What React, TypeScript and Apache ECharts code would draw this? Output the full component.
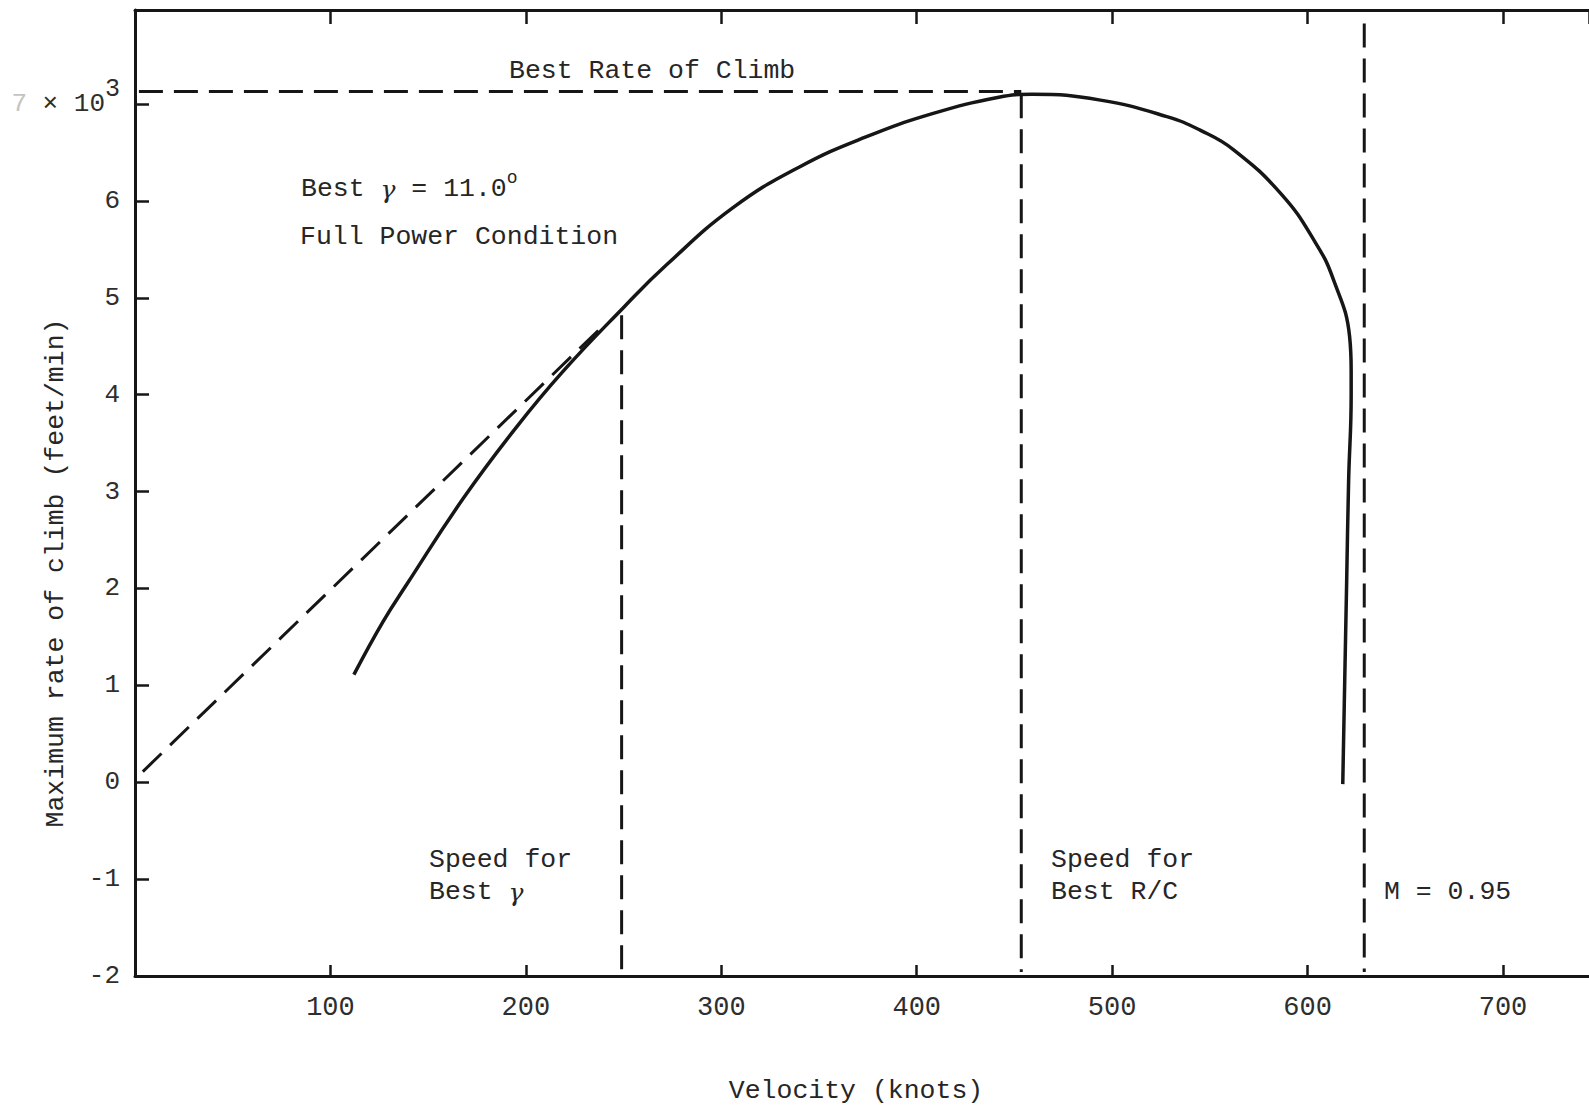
import React, { useEffect, useRef } from "react";
import * as echarts from "echarts";

// ---- Data ----
const velocityTicks = [100, 200, 300, 400, 500, 600, 700];
const rocTicks = [-2, -1, 0, 1, 2, 3, 4, 5, 6, 7];

// Maximum rate of climb (x 10^3 ft/min) vs velocity (knots), full power
const curveVelocity = [
  112, 127, 139, 168, 195, 219, 250, 272, 306, 340, 374, 408, 442, 459, 494,
  528, 545, 562, 587, 604, 613, 621.5, 622.3, 622.3, 621, 620, 619, 618,
];
const curveRoc = [
  1.11, 1.66, 2.04, 2.93, 3.66, 4.24, 4.9, 5.34, 5.93, 6.35, 6.66, 6.9, 7.07,
  7.1, 7.04, 6.87, 6.73, 6.53, 6.06, 5.57, 5.2, 4.6, 4.25, 4.0, 3.11, 2.07,
  1.04, -0.02,
];

// Tangent from the origin (best climb angle)
const tangentVelocity = [4, 240];
const tangentRoc = [0.11, 4.72];

// Reference lines
const bestGammaSpeed = 249;
const bestGammaTop = 4.82;
const bestRcSpeed = 453.5;
const bestRcTop = 7.1;
const bestRoc = 7.13;
const bestRocStart = 2;
const machSpeed = 629;
const machTop = 7.83;
const lineBottom = -1.96;

const xMin = 0;
const xMax = 744;
const yMin = -2;
const yMax = 7.97;

const FONT = '"Liberation Mono", "DejaVu Sans Mono", monospace';
const GREEK = '"DejaVu Serif", "Liberation Serif", serif';
const INK = "#161616";
const TEXT = "#262626";

const pairs = (xs: number[], ys: number[]) => xs.map((x, i) => [x, ys[i]]);

const dashedSeries = (data: number[][], dash: number[]) => ({
  type: "line",
  data,
  symbol: "none",
  showSymbol: false,
  silent: true,
  z: 3,
  lineStyle: { color: INK, width: 3, type: dash },
});

const greekRich = {
  g: { fontFamily: GREEK, fontStyle: "italic", fontSize: 25, fill: TEXT },
  sup: { fontFamily: FONT, fontSize: 18, fill: TEXT, padding: [0, 0, 22, 0] },
};

const txt = (
  text: string,
  x: number,
  y: number,
  extra: Record<string, unknown> = {}
) => ({
  type: "text",
  x,
  y,
  silent: true,
  style: {
    text,
    fill: TEXT,
    fontFamily: FONT,
    fontSize: 26.5,
    align: "left",
    verticalAlign: "middle",
    rich: greekRich,
    ...extra,
  },
});

export default function App() {
  const ref = useRef<HTMLDivElement>(null);

  useEffect(() => {
    if (!ref.current) return;
    const chart = echarts.init(ref.current, null, { renderer: "svg" });

    const axisLine = { show: true, onZero: false, lineStyle: { color: INK, width: 3 } };

    const option: any = {
      animation: false,
      backgroundColor: "#ffffff",
      grid: { left: 135, top: 10, right: 0, bottom: 133, containLabel: false },
      xAxis: [
        {
          type: "value",
          position: "bottom",
          min: xMin,
          max: xMax,
          interval: 100,
          axisLine,
          axisTick: { show: true, inside: true, length: 11, lineStyle: { color: INK, width: 2.5 } },
          axisLabel: {
            show: true,
            showMaxLabel: false,
            margin: 18,
            fontFamily: FONT,
            fontSize: 27,
            color: "#2e2e2e",
            formatter: (v: number) => (velocityTicks.includes(v) ? String(v) : ""),
          },
          splitLine: { show: false },
        },
        {
          type: "value",
          position: "top",
          min: xMin,
          max: xMax,
          interval: 100,
          axisLine,
          axisTick: { show: true, inside: true, length: 14, lineStyle: { color: INK, width: 2.5 } },
          axisLabel: { show: false },
          splitLine: { show: false },
        },
      ],
      yAxis: {
        type: "value",
        min: yMin,
        max: yMax,
        interval: 1,
        axisLine,
        axisTick: { show: true, inside: true, length: 14, lineStyle: { color: INK, width: 2.5 } },
        axisLabel: {
          show: true,
          showMaxLabel: false,
          margin: 15,
          fontFamily: FONT,
          fontSize: 26,
          color: "#2e2e2e",
          formatter: (v: number) => {
            if (!rocTicks.includes(v)) return "";
            if (v === 7) return "{f|7} × 10{sup|3}";
            return String(v);
          },
          rich: {
            f: { color: "#c4c4c4", fontFamily: FONT, fontSize: 26 },
            sup: { fontFamily: FONT, fontSize: 25, color: "#2e2e2e", padding: [0, 0, 28, 0] },
          },
        },
        splitLine: { show: false },
      },
      series: [
        {
          type: "line",
          data: pairs(curveVelocity, curveRoc),
          symbol: "none",
          showSymbol: false,
          smooth: 0.45,
          silent: true,
          z: 5,
          lineStyle: { color: INK, width: 3.5 },
        },
        dashedSeries(pairs(tangentVelocity, tangentRoc), [26, 12]),
        dashedSeries(
          [
            [bestRocStart, bestRoc],
            [bestRcSpeed, bestRoc],
          ],
          [24, 11]
        ),
        dashedSeries(
          [
            [bestGammaSpeed, bestGammaTop],
            [bestGammaSpeed, lineBottom],
          ],
          [24, 11]
        ),
        dashedSeries(
          [
            [bestRcSpeed, bestRcTop],
            [bestRcSpeed, lineBottom],
          ],
          [24, 11]
        ),
        dashedSeries(
          [
            [machSpeed, machTop],
            [machSpeed, lineBottom],
          ],
          [24, 11]
        ),
      ],
      graphic: [
        txt("Best Rate of Climb", 509, 71),
        txt("Best {g|γ} = 11.0{sup|o}", 301, 189),
        txt("Full Power Condition", 300, 237),
        txt("Speed for", 429, 860),
        txt("Best {g|γ}", 429, 892),
        txt("Speed for", 1051, 860),
        txt("Best R/C", 1051, 892),
        txt("M = 0.95", 1384, 892),
        txt("Velocity (knots)", 856, 1091, { align: "center" }),
        {
          type: "text",
          x: 56,
          y: 573,
          rotation: Math.PI / 2,
          silent: true,
          style: {
            text: "Maximum rate of climb (feet/min)",
            fill: TEXT,
            fontFamily: FONT,
            fontSize: 26.5,
            align: "center",
            verticalAlign: "middle",
          },
        },
      ],
    };

    chart.setOption(option);
    return () => chart.dispose();
  }, []);

  return (
    <div
      ref={ref}
      style={{ position: "absolute", left: 0, top: 0, width: 1589, height: 1109, background: "#fff" }}
    />
  );
}
